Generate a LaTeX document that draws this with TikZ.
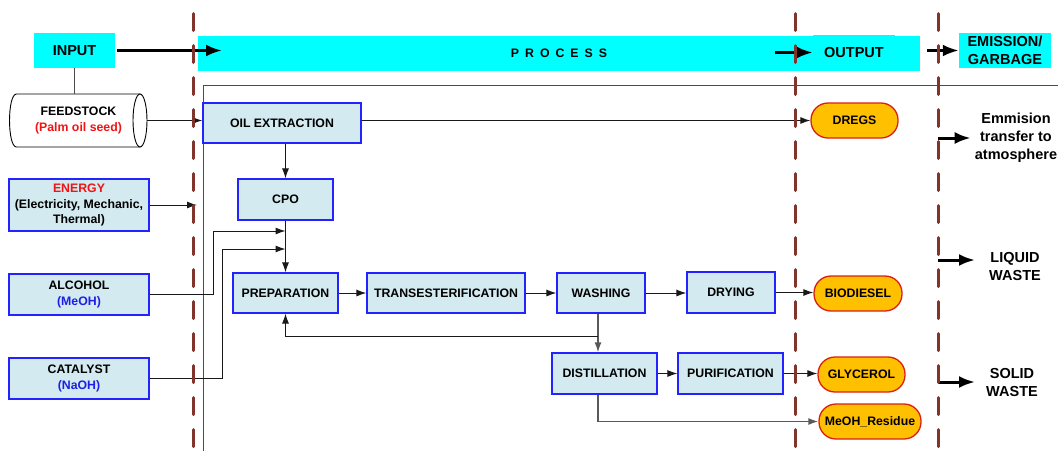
\documentclass[tikz,border=0pt]{standalone}
\usepackage{fontspec}
\setmainfont{Liberation Sans}
\usetikzlibrary{arrows.meta}
\definecolor{bandcyan}{RGB}{0,255,255}
\definecolor{boxfill}{RGB}{210,234,240}
\definecolor{boxedge}{RGB}{35,35,255}
\definecolor{prodfill}{RGB}{255,192,0}
\definecolor{prodedge}{RGB}{220,30,20}
\definecolor{divider}{RGB}{128,52,44}
\definecolor{zonered}{RGB}{255,0,0}
\definecolor{inred}{RGB}{240,20,20}
\definecolor{inblue}{RGB}{30,30,230}

\begin{document}
\begin{tikzpicture}[x=1pt,y=-1pt,
  every node/.style={inner sep=0pt, align=center,
    font=\bfseries\fontsize{12.3}{15.5}\selectfont},
  band/.style={fill=bandcyan, minimum height=35pt,
    font=\bfseries\fontsize{14.5}{18}\selectfont},
  stage/.style={draw=boxedge, fill=boxfill, line width=1.2pt},
  product/.style={draw=prodedge, fill=prodfill, line width=1.3pt,
    minimum height=35pt, rounded corners=17pt},
  sidelabel/.style={font=\bfseries\fontsize{14.5}{18}\selectfont},
  link/.style={line width=1pt, draw=black!90},
  flow/.style={link, -{Latex[length=10pt,width=7pt]}},
  bigflow/.style={line width=3pt, -{Latex[length=16pt,width=12pt]}},
  divline/.style={draw=divider, line width=3pt,
    dash pattern=on 17pt off 15pt, line cap=round},
  zoneline/.style={draw=zonered, line width=1.5pt},
]
\useasboundingbox (0,0) rectangle (1058,451);

% header bands
\node[band, minimum width=722pt] (process) at (559,53.5)
  {\fontsize{12.3}{14}\selectfont P\kern6pt{}R\kern6pt{}O\kern6pt{}C\kern6pt{}E\kern6pt{}S\kern6pt{}S};
\node[band, minimum width=81pt] (input) at (74.5,50.5) {INPUT};
\node[band, minimum width=82pt] (output) at (854,52.5) {OUTPUT};
\node[band, minimum width=92pt] (emission) at (1005,50.5) {EMISSION/\\GARBAGE};

% process frame
\draw[zoneline] (1058,85.5) -- (203.5,85.5) -- (203.5,451);

% feedstock drum
\draw[line width=0.9pt, fill=white] (16.5,94) -- (140,94) -- (140,147) -- (16.5,147)
  .. controls (7.2,147) and (7.2,94) .. (16.5,94);
\draw[line width=0.9pt, fill=white] (140,120.5) ellipse [x radius=7pt, y radius=26.5pt];
\node[minimum width=137pt, minimum height=53pt] (feed) at (78.5,120.5)
  {FEEDSTOCK\\{\color{inred}(Palm oil seed)}};

% inputs
\node[stage, minimum width=140pt, minimum height=52pt] (energy) at (79,205)
  {{\color{inred}ENERGY}\\(Electricity, Mechanic,\\Thermal)};
\node[stage, minimum width=140pt, minimum height=41pt] (alcohol) at (79,294.5)
  {ALCOHOL\\{\color{inblue}(MeOH)}};
\node[stage, minimum width=140pt, minimum height=41pt] (catalyst) at (79,378.5)
  {CATALYST\\{\color{inblue}(NaOH)}};

% process stages
\node[stage, minimum width=158pt, minimum height=40pt] (oil) at (282,123) {OIL EXTRACTION};
\node[stage, minimum width=95pt, minimum height=41pt] (cpo) at (285.5,199.5) {CPO};
\node[stage, minimum width=105pt, minimum height=40pt] (prep) at (285.5,293) {PREPARATION};
\node[stage, minimum width=158pt, minimum height=40pt] (trans) at (446,293) {TRANSESTERIFICATION};
\node[stage, minimum width=88pt, minimum height=40pt] (washing) at (601,293) {WASHING};
\node[stage, minimum width=88pt, minimum height=41pt] (drying) at (731,292.5) {DRYING};
\node[stage, minimum width=105pt, minimum height=41pt] (distill) at (604.5,373.5) {DISTILLATION};
\node[stage, minimum width=105pt, minimum height=41pt] (purif) at (730.5,373.5) {PURIFICATION};

% products
\node[product, minimum width=87pt] (dregs) at (854.5,120.5) {DREGS};
\node[product, minimum width=88pt] (biodiesel) at (858,293.5) {BIODIESEL};
\node[product, minimum width=87pt] (glycerol) at (861.5,374.5) {GLYCEROL};
\node[product, minimum width=102pt] (meoh) at (870,421.5) {MeOH\_Residue};

% emission side labels
\node[sidelabel] (atmo) at (1016,138) {Emmision\\transfer to\\atmosphere};
\node[sidelabel] (liquid) at (1015,267) {LIQUID\\WASTE};
\node[sidelabel] (solid) at (1012,382) {SOLID\\WASTE};

% junction and free-end points
\coordinate (procin) at (222,50.5);
\coordinate (outarr) at (775,52.5);
\coordinate (emarr) at (927,50.5);
\coordinate (entip) at (197,205);
\coordinate (alcjoin) at (285.5,231);
\coordinate (catjoin) at (285.5,249);
\coordinate (washsplit) at (598,336);
\coordinate (atmoarr) at (938,138);
\coordinate (liqarr) at (938,260);
\coordinate (liqtip) at (975,260);
\coordinate (solarr) at (938,382);
\coordinate (soltip) at (975,382);

% header arrows
\draw[bigflow, shorten <=2pt] (input.east) -- (procin);
\draw[bigflow] (outarr) -- (output.west);
\draw[bigflow] (emarr) -- (emission.west);

% connectors
\draw[link, draw=black!70] (input.south) -- (input.south |- feed.north);
\draw[flow] (feed.east) -- (feed.east -| oil.west);
\draw[flow] (oil.east |- dregs.west) -- (dregs.west);
\draw[flow] (energy.east) -- (entip);
\draw[flow] (oil.south -| cpo.north) -- (cpo.north);
\draw[flow] (cpo.south) -- (prep.north);
\draw[flow] (alcohol.east) -| (213,231) -- (alcjoin);
\draw[flow] (catalyst.east) -| (222,249) -- (catjoin);
\draw[flow] (prep.east) -- (trans.west);
\draw[flow] (trans.east) -- (washing.west);
\draw[flow] (washing.east) -- (washing.east -| drying.west);
\draw[flow] (drying.east) -- (drying.east -| biodiesel.west);
\draw[link, draw=black!65, line width=1.5pt] (washing.south -| washsplit) -- (washsplit);
\draw[flow, draw=black!65, line width=1.5pt] (washsplit) -- (washsplit |- distill.north);
\draw[flow] (washsplit) -| (prep.south);
\draw[flow] (distill.east) -- (distill.east -| purif.west);
\draw[flow] (purif.east) -- (purif.east -| glycerol.west);
\draw[flow, draw=black!65, line width=1.5pt] (distill.south -| washsplit) |- (meoh.west);

% emission arrows
\draw[bigflow] (atmoarr) -- ([xshift=-4pt]atmo.west);
\draw[bigflow] (liqarr) -- (liqtip);
\draw[bigflow] (solarr) -- (soltip);

% stage dividers
\draw[divline] (193,13.5) -- (193,451);
\draw[divline] (795,13.5) -- (795,451);
\draw[divline] (938,13.5) -- (938,451);
\end{tikzpicture}
\end{document}
